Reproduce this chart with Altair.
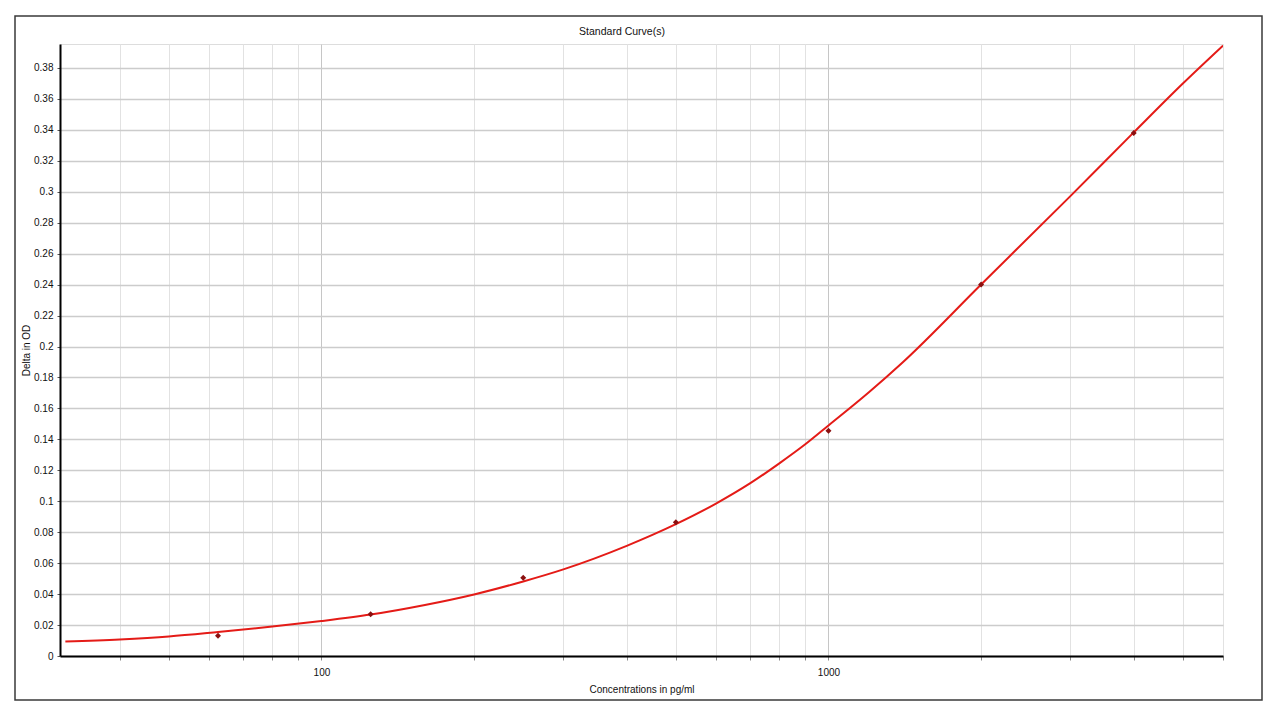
import altair as alt
import pandas as pd

# ---- data ----
std_conc = [62.5, 125, 250, 500, 1000, 2000, 4000]
std_od = [0.0131, 0.0270, 0.0505, 0.0864, 0.1456, 0.2400, 0.3380]

curve_conc = [31.25, 40, 50, 62.5, 80, 100, 125, 160, 200, 250, 300, 400, 500,
              600, 700, 800, 900, 1000, 1200, 1400, 2000, 3000, 4000, 5000, 6000]
curve_od = [0.0093, 0.0107, 0.0126, 0.0155, 0.0190, 0.0226, 0.0268, 0.0330, 0.0398,
            0.0482, 0.0560, 0.0712, 0.0852, 0.0985, 0.1115, 0.1245, 0.1368, 0.1490,
            0.1703, 0.1897, 0.2401, 0.2972, 0.3384, 0.3700, 0.3945]

x_grid_values = [40, 50, 60, 70, 80, 90, 100, 200, 300, 400, 500, 600, 700, 800, 900,
                 1000, 2000, 3000, 4000, 5000, 6000]
y_tick_values = [0, 0.02, 0.04, 0.06, 0.08, 0.1, 0.12, 0.14, 0.16, 0.18, 0.2, 0.22,
                 0.24, 0.26, 0.28, 0.3, 0.32, 0.34, 0.36, 0.38]

title_text = "Standard Curve(s)"
x_title = "Concentrations in pg/ml"
y_title = "Delta in OD"

FONT = "Liberation Sans"
FS = 10

points_df = pd.DataFrame({"conc": std_conc, "od": std_od})
curve_df = pd.DataFrame({"conc": curve_conc, "od": curve_od})

x_scale = alt.Scale(type="log", domain=[30.5, 6000], nice=False)
y_scale = alt.Scale(domain=[0, 0.3955], nice=False, zero=True)

x_axis = alt.Axis(
    title=x_title,
    values=x_grid_values,
    tickCount=60,
    labelExpr="(datum.value == 100 || datum.value == 1000) ? datum.value : ''",
    labelOverlap=False,
    labelFlush=False,
    grid=True,
    gridColor={"condition": {"test": "datum.value == 100 || datum.value == 1000",
                             "value": "#c6c6c6"}, "value": "#e2e2e2"},
    gridWidth=1,
    domainColor="#000000",
    domainWidth=2,
    tickColor="#888888",
    tickSize=4,
    labelPadding=7,
    titlePadding=7,
    labelFont=FONT, labelFontSize=FS, labelFontWeight="normal", labelColor="#111111",
    titleFont=FONT, titleFontSize=FS, titleFontWeight="normal", titleColor="#111111",
)

y_axis = alt.Axis(
    title=y_title,
    values=y_tick_values,
    tickCount=60,
    format=".2~f",
    labelOverlap=False,
    labelFlush=False,
    grid=True,
    gridColor="#cccccc",
    gridWidth=1.5,
    domainColor="#000000",
    domainWidth=2,
    tickColor="#555555",
    tickSize=3,
    labelPadding=4,
    titlePadding=2,
    labelFont=FONT, labelFontSize=FS, labelFontWeight="normal", labelColor="#111111",
    titleFont=FONT, titleFontSize=FS, titleFontWeight="normal", titleColor="#111111",
)

curve = alt.Chart(curve_df).mark_line(
    color="#e41b17", strokeWidth=2, interpolate="monotone", clip=True
).encode(
    x=alt.X("conc:Q", scale=x_scale, axis=x_axis),
    y=alt.Y("od:Q", scale=y_scale, axis=y_axis),
)

pts = alt.Chart(points_df).mark_point(
    shape="diamond", filled=True, size=36, color="#8b1010", opacity=1
).encode(
    x=alt.X("conc:Q", scale=x_scale),
    y=alt.Y("od:Q", scale=y_scale),
)

single = pd.DataFrame({"t": [title_text]})

frame = alt.Chart(single).mark_rect(
    filled=False, stroke="#3a3a3a", strokeWidth=1.5, clip=False
).encode(
    x=alt.value(-45), x2=alt.value(1202), y=alt.value(-28), y2=alt.value(656)
)

title_mark = alt.Chart(single).mark_text(
    font=FONT, fontSize=FS + 0.5, color="#111111", align="center",
    baseline="middle", clip=False
).encode(
    text="t:N", x=alt.value(562), y=alt.value(-12)
)

chart = alt.layer(frame, curve, pts, title_mark).properties(
    width=1163,
    height=612,
    autosize=alt.AutoSizeParams(type="none"),
    padding={"left": 52, "top": 36, "right": 41, "bottom": 56},
).configure_view(
    stroke=None
).configure(background="white")

chart.save("out.html", embed_options={"renderer": "svg", "actions": False})
